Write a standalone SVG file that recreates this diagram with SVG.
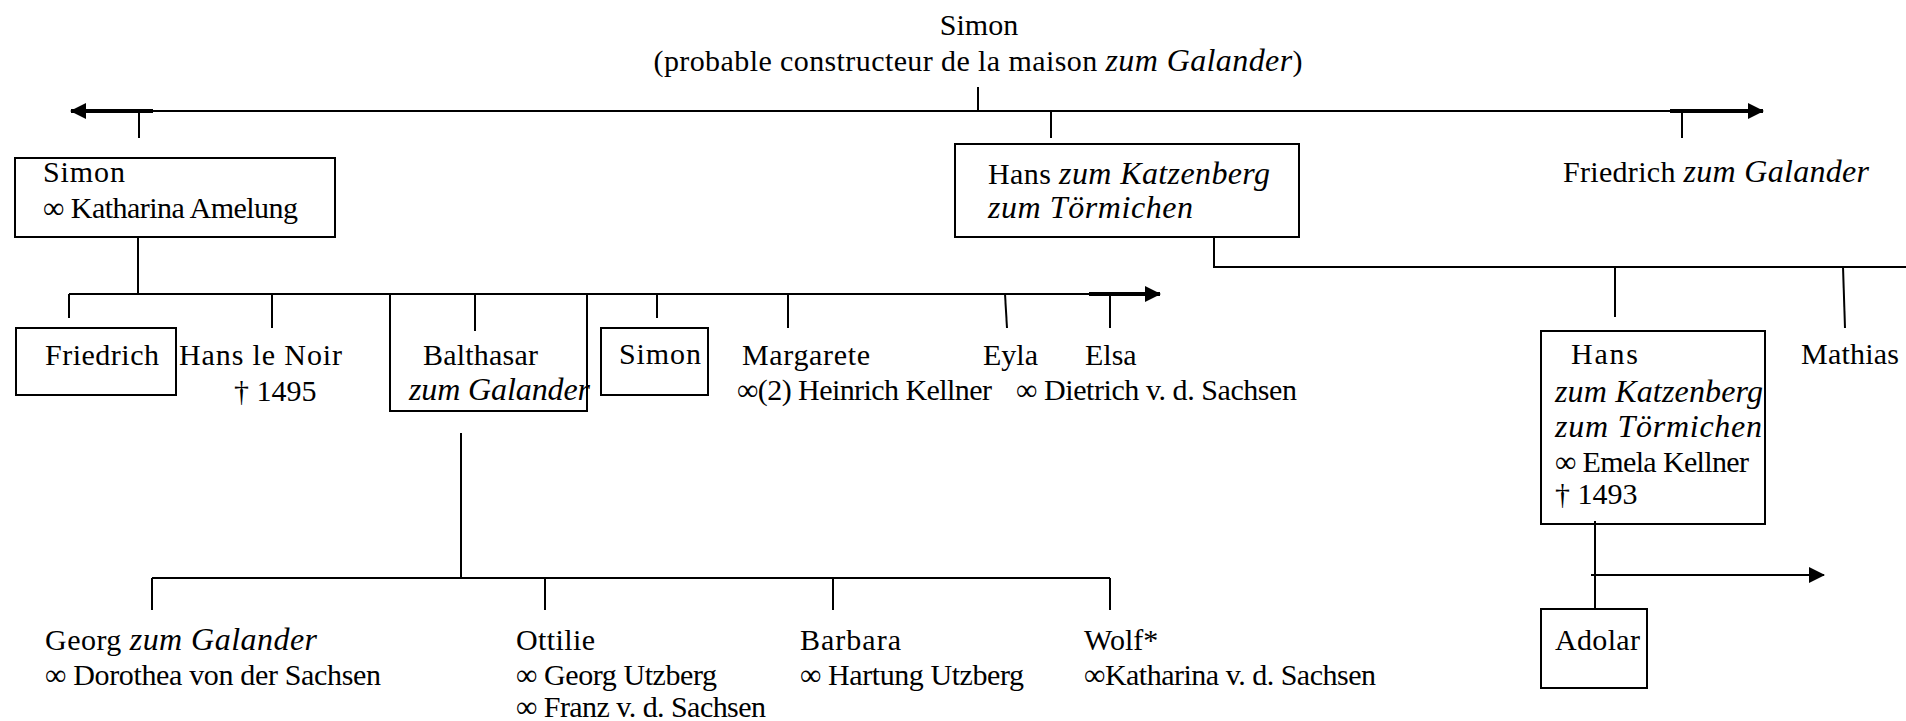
<svg xmlns="http://www.w3.org/2000/svg" width="1906" height="721" viewBox="0 0 1906 721" font-family="'Liberation Serif', 'DejaVu Serif', serif" font-size="30">
  <style>
    text { font-family: "Liberation Serif", "DejaVu Serif", serif; font-size: 30px; fill: #000; }
    .i { font-style: italic; font-size: 32px; }
    .box { fill: none; stroke: #000; stroke-width: 2; }
    .ln { fill: none; stroke: #000; stroke-width: 2; }
    .shaft { fill: none; stroke: #000; stroke-width: 4; }
    .head { fill: #000; stroke: none; }
  </style>
  <defs>
    <marker id="arrow" viewBox="0 0 16 16" refX="15" refY="8" markerWidth="16" markerHeight="16" markerUnits="userSpaceOnUse" orient="auto">
      <path class="head" d="M0,0 L16,8 L0,16 Z"/>
    </marker>
  </defs>

  <rect width="1906" height="721" fill="#fff"/>

  <!-- lines of descent -->
  <g id="connectors">
    <!-- from the founder -->
    <path class="ln" d="M978,87 V111"/>
    <path class="ln" d="M80,111 H1755"/>
    <path class="shaft" d="M153,111 H71" marker-end="url(#arrow)"/>
    <path class="shaft" d="M1670,111 H1763" marker-end="url(#arrow)"/>
    <path class="ln" d="M139,111 V138"/>
    <path class="ln" d="M1051,111 V138"/>
    <path class="ln" d="M1682,111 V138"/>

    <!-- children of Simon and Katharina Amelung -->
    <path class="ln" d="M138,237 V294"/>
    <path class="ln" d="M69,294 H1150"/>
    <path class="shaft" d="M1089,294 H1160" marker-end="url(#arrow)"/>
    <path class="ln" d="M69,294 V318"/>
    <path class="ln" d="M272,294 V328"/>
    <path class="ln" d="M475,294 V331"/>
    <path class="ln" d="M657,294 V318"/>
    <path class="ln" d="M788,294 V328"/>
    <path class="ln" d="M1005,294 L1007,328"/>
    <path class="ln" d="M1110,294 V328"/>

    <!-- children of Balthasar -->
    <path class="ln" d="M461,433 V578"/>
    <path class="ln" d="M152,578 H1110"/>
    <path class="ln" d="M152,578 V610"/>
    <path class="ln" d="M545,578 V610"/>
    <path class="ln" d="M833,578 V610"/>
    <path class="ln" d="M1110,578 V610"/>

    <!-- children of Hans zum Katzenberg -->
    <path class="ln" d="M1214,237 V267 H1906"/>
    <path class="ln" d="M1615,267 V317"/>
    <path class="ln" d="M1843,267 L1845,328"/>

    <!-- descendants of Hans -->
    <path class="ln" d="M1595,521 V609"/>
    <path class="ln" d="M1591,575 H1824" stroke-width="3" marker-end="url(#arrow)"/>
  </g>

  <!-- founder -->
  <g id="simon-founder">
    <text x="979" y="35" text-anchor="middle">Simon</text>
    <text x="978" y="71" text-anchor="middle" textLength="649">(probable constructeur de la maison <tspan class="i">zum Galander</tspan>)</text>
  </g>

  <!-- first generation -->
  <g id="simon">
    <rect class="box" x="15" y="158" width="320" height="79"/>
    <text x="43" y="182" textLength="82">Simon</text>
    <text x="43" y="218" textLength="255">∞ Katharina Amelung</text>
  </g>
  <g id="hans-katzenberg">
    <rect class="box" x="955" y="144" width="344" height="93"/>
    <text x="988" y="184" textLength="282">Hans <tspan class="i">zum Katzenberg</tspan></text>
    <text x="988" y="218" class="i" textLength="205">zum Törmichen</text>
  </g>
  <g id="friedrich-galander">
    <text x="1563" y="182" textLength="306">Friedrich <tspan class="i">zum Galander</tspan></text>
  </g>

  <!-- second generation -->
  <g id="friedrich">
    <rect class="box" x="16" y="328" width="160" height="67"/>
    <text x="45" y="365" textLength="114">Friedrich</text>
  </g>
  <g id="hans-le-noir">
    <text x="179" y="365" textLength="163">Hans le Noir</text>
    <text x="234" y="401">† 1495</text>
  </g>
  <g id="balthasar">
    <rect class="box" x="390" y="294" width="197" height="117"/>
    <text x="423" y="365" textLength="115">Balthasar</text>
    <text x="409" y="400" class="i" textLength="181">zum Galander</text>
  </g>
  <g id="simon-jr">
    <rect class="box" x="601" y="328" width="107" height="67"/>
    <text x="619" y="364" textLength="82">Simon</text>
  </g>
  <g id="margarete">
    <text x="742" y="365" textLength="128">Margarete</text>
    <text x="737" y="400" textLength="255">∞(2) Heinrich Kellner</text>
  </g>
  <g id="eyla">
    <text x="983" y="365">Eyla</text>
  </g>
  <g id="elsa">
    <text x="1085" y="365">Elsa</text>
    <text x="1016" y="400" textLength="281">∞ Dietrich v. d. Sachsen</text>
  </g>
  <g id="hans">
    <rect class="box" x="1541" y="331" width="224" height="193"/>
    <text x="1571" y="364" textLength="67">Hans</text>
    <text x="1555" y="402" class="i" textLength="208">zum Katzenberg</text>
    <text x="1555" y="437" class="i" textLength="207">zum Törmichen</text>
    <text x="1555" y="472" textLength="194">∞ Emela Kellner</text>
    <text x="1555" y="504">† 1493</text>
  </g>
  <g id="mathias">
    <text x="1801" y="364" textLength="98">Mathias</text>
  </g>

  <!-- third generation -->
  <g id="georg">
    <text x="45" y="650" textLength="272">Georg <tspan class="i">zum Galander</tspan></text>
    <text x="45" y="685" textLength="336">∞ Dorothea von der Sachsen</text>
  </g>
  <g id="ottilie">
    <text x="516" y="650" textLength="79">Ottilie</text>
    <text x="516" y="685" textLength="201">∞ Georg Utzberg</text>
    <text x="516" y="717" textLength="250">∞ Franz v. d. Sachsen</text>
  </g>
  <g id="barbara">
    <text x="800" y="650" textLength="101">Barbara</text>
    <text x="800" y="685" textLength="224">∞ Hartung Utzberg</text>
  </g>
  <g id="wolf">
    <text x="1084" y="650">Wolf*</text>
    <text x="1084" y="685" textLength="292">∞Katharina v. d. Sachsen</text>
  </g>
  <g id="adolar">
    <rect class="box" x="1541" y="609" width="106" height="79"/>
    <text x="1555" y="650" textLength="85">Adolar</text>
  </g>
</svg>
